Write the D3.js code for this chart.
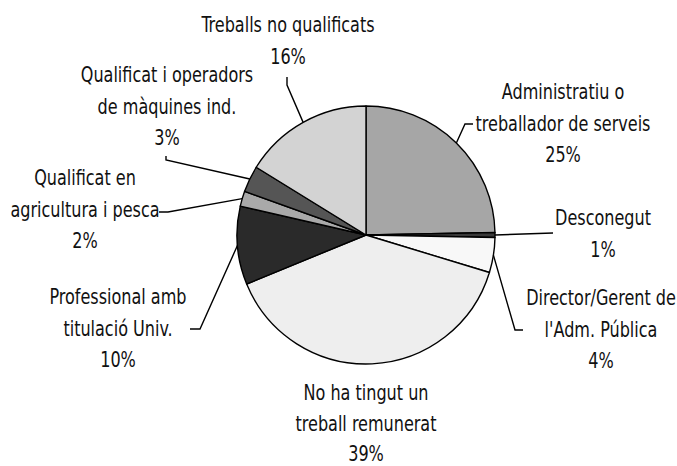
<!DOCTYPE html>
<html>
<head>
<meta charset="utf-8">
<script src="https://cdn.jsdelivr.net/npm/d3@7"></script>
<style>
  body { margin: 0; background: #fff; }
  svg text { font-family: "DejaVu Sans Condensed", "Liberation Sans Narrow", sans-serif; font-size: 20.5px; fill: #111; }
</style>
</head>
<body>
<svg width="677" height="466"></svg>
<script>
// categories, clockwise from 12 o'clock
var categories = [
  ['Administratiu o', 'treballador de serveis'],
  ['Desconegut'],
  ['Director/Gerent de', "l'Adm. Pública"],
  ['No ha tingut un', 'treball remunerat'],
  ['Professional amb', 'titulació Univ.'],
  ['Qualificat en', 'agricultura i pesca'],
  ['Qualificat i operadors', 'de màquines ind.'],
  ['Treballs no qualificats']
]
// share (%)
var values = [24.7, 0.6, 4.4, 39.1, 9.8, 1.9, 3.3, 16.2]

var colors = ['#a6a6a6', '#3a3a3a', '#f8f8f8', '#eeeeee', '#2a2a2a', '#a9a9a9', '#555555', '#d3d3d3']

// label placement: text centre, first line y, line gap, leader bend points
var layout = [
  { x: 563, y: 92,  gap: 31.5, pts: [[465, 124], [473, 124]] },
  { x: 603, y: 218, gap: 31.5, pts: [[553, 233]] },
  { x: 601, y: 298, gap: 31.5, pts: [[515, 330], [523, 330]] },
  { x: 366, y: 393, gap: 30.5, pts: [] },
  { x: 118, y: 297, gap: 31.5, pts: [[200, 329], [190, 329]] },
  { x: 85,  y: 178, gap: 31.5, pts: [[168, 212], [159, 212]] },
  { x: 167, y: 75,  gap: 31.5, pts: [[166, 160], [166, 156]] },
  { x: 288, y: 25,  gap: 31.5, pts: [[287, 85], [287, 77]] }
]

var cx = 366, cy = 235, R = 129, squeeze = 0.87

var svg = d3.select('svg')

var pie = d3.pie().sort(null).value(d => d)
var arcs = pie(values)
var arc = d3.arc().innerRadius(0).outerRadius(R)
var rim = d3.arc().innerRadius(R).outerRadius(R)

var g = svg.append('g').attr('transform', 'translate(' + cx + ',' + cy + ')')

g.selectAll('path.slice')
  .data(arcs)
  .enter()
  .append('path')
  .attr('class', 'slice')
  .attr('d', arc)
  .style('fill', (d, i) => colors[i])
  .style('stroke', '#000')
  .style('stroke-width', 1.4)
  .style('stroke-linejoin', 'round')

// leader lines
var line = d3.line()
svg.selectAll('path.leader')
  .data(arcs.filter((d, i) => layout[i].pts.length))
  .enter()
  .append('path')
  .attr('class', 'leader')
  .attr('d', d => {
    let c = rim.centroid(d)
    let start = [cx + c[0], cy + c[1]]
    return line([start].concat(layout[d.index].pts))
  })
  .style('fill', 'none')
  .style('stroke', '#000')
  .style('stroke-width', 1.4)

// labels (font squeezed horizontally to look condensed)
var fmt = v => Math.round(v) + '%'
var labels = svg.selectAll('text.label')
  .data(arcs)
  .enter()
  .append('text')
  .attr('class', 'label')
  .attr('text-anchor', 'middle')
  .attr('transform', (d, i) => 'translate(' + layout[i].x + ',' + layout[i].y + ') scale(' + squeeze + ',1)')

labels.each(function(d, i) {
  let lines = categories[i].concat([fmt(values[i])])
  let t = d3.select(this)
  lines.forEach((s, k) => {
    t.append('tspan')
      .attr('x', 0)
      .attr('y', k * layout[i].gap)
      .attr('dy', '0.35em')
      .text(s)
  })
})
</script>
</body>
</html>
